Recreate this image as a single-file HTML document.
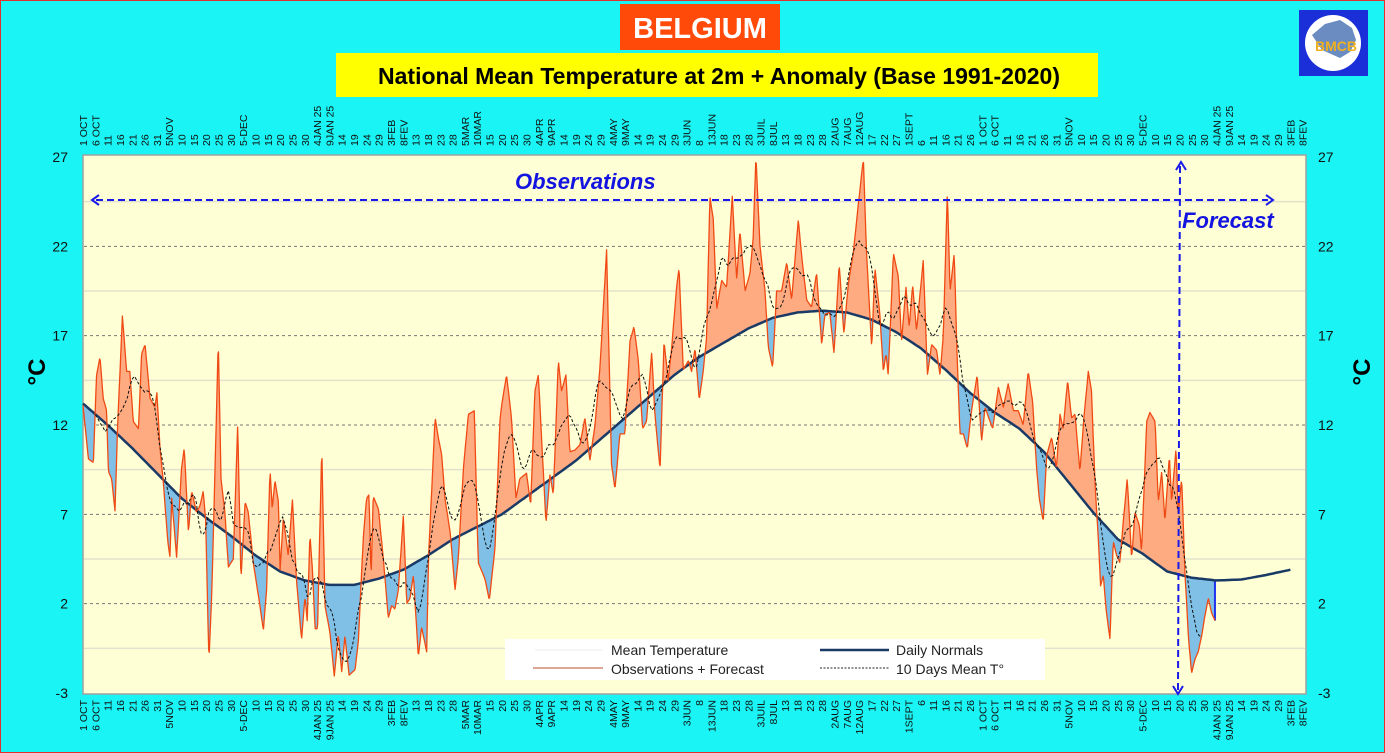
<!DOCTYPE html>
<html><head><meta charset="utf-8"><title>Belgium temperature</title>
<style>
html,body{margin:0;padding:0;}
body{width:1385px;height:753px;overflow:hidden;background:#1af4f4;font-family:"Liberation Sans",sans-serif;}
#wrap{position:relative;width:1383px;height:751px;border:1px solid #e03030;background:#1af4f4;}
</style></head>
<body>
<div id="wrap">
<svg id="svg" width="1383" height="751" viewBox="1 1 1383 751" xmlns="http://www.w3.org/2000/svg" style="position:absolute;left:0;top:0">
  <rect x="620" y="4" width="160" height="46" fill="#ff4a0a"/>
  <text x="700" y="38" text-anchor="middle" font-size="29" font-weight="bold" fill="#fff">BELGIUM</text>
  <rect x="336" y="53" width="762" height="44" fill="#ffff00"/>
  <text x="719" y="84" text-anchor="middle" font-size="23" font-weight="bold" fill="#000">National Mean Temperature at 2m + Anomaly (Base 1991-2020)</text>
  <g>
    <rect x="1299" y="10" width="69" height="66" fill="#1a2fd8"/>
    <circle cx="1333" cy="43" r="28" fill="#fff"/>
    <path d="M1312 35 L1325 24 L1340 20 L1352 28 L1356 40 L1350 52 L1340 58 L1322 50 Z" fill="#6a8cc0"/>
    <text x="1336" y="51" text-anchor="middle" font-size="14" font-weight="bold" fill="#f0b020">BMCB</text>
  </g>
  <rect x="83" y="155" width="1223" height="539" fill="#ffffd6" stroke="#a0a0a0" stroke-width="1.5"/>
  <g id="grid"></g>
  <g id="fills"></g>
  <g id="lines"></g>
  <g id="axes"></g>
  <g>
    <line x1="96" y1="200" x2="1268" y2="200" stroke="#1a1ae8" stroke-width="2" stroke-dasharray="7,4"/>
    <polyline points="99,195 92,200 99,205" fill="none" stroke="#1a1ae8" stroke-width="2"/>
    <polyline points="1266,195 1273,200 1266,205" fill="none" stroke="#1a1ae8" stroke-width="2"/>
    <text x="515" y="189" font-size="22" font-weight="bold" font-style="italic" fill="#1414e0">Observations</text>
  </g>
  <g>
    <line x1="1180" y1="166" x2="1178" y2="690" stroke="#1a1ae8" stroke-width="2" stroke-dasharray="7,4"/>
    <polyline points="1176,170 1181,162 1186,170" fill="none" stroke="#1a1ae8" stroke-width="2"/>
    <polyline points="1173,686 1178,694 1183,686" fill="none" stroke="#1a1ae8" stroke-width="2"/>
    <text x="1182" y="228" font-size="22" font-weight="bold" font-style="italic" fill="#1414e0">Forecast</text>
  </g>
  <g>
    <rect x="505" y="639" width="540" height="41" fill="#ffffff"/>
    <line x1="535" y1="650" x2="603" y2="650" stroke="#f4f4f4" stroke-width="1.5"/>
    <text x="611" y="655" font-size="14" fill="#222">Mean Temperature</text>
    <line x1="533" y1="668" x2="603" y2="668" stroke="#d08a70" stroke-width="1.5"/>
    <text x="611" y="674" font-size="14" fill="#222">Observations + Forecast</text>
    <line x1="820" y1="650" x2="889" y2="650" stroke="#1a3a66" stroke-width="2.5"/>
    <text x="896" y="655" font-size="14" fill="#222">Daily Normals</text>
    <line x1="820" y1="668" x2="889" y2="668" stroke="#222" stroke-width="1" stroke-dasharray="2,1.5"/>
    <text x="896" y="674" font-size="14" fill="#222">10 Days Mean T°</text>
  </g>
  <text transform="translate(45,372) rotate(-90)" text-anchor="middle" font-size="24" font-weight="bold" fill="#000">°C</text>
  <text transform="translate(1370,372) rotate(-90)" text-anchor="middle" font-size="24" font-weight="bold" fill="#000">°C</text>
</svg>
</div>
<script>
const obsDays=[0,2.2,4.2,5.5,6.9,8.2,9.6,10.3,11.6,13,14,16,17.7,19,20.4,22.5,23.8,25.2,27.2,29.2,30,31.2,32.6,34.4,35.3,36,38,40,41.1,42.8,44.1,46.1,47.5,48.8,49.8,51.1,52.2,53.6,54.9,56,57.6,59,61,62.8,64.1,65.8,67.1,69.1,71.8,73.2,74.5,75.9,76.8,77.9,79.3,80,81.3,83.3,85,86.7,88.7,90.1,91,92.1,93.1,94.2,95.2,96.9,98.2,100.2,102,103.6,105,106.3,108,110.4,111.7,113.8,115.1,116.1,116.9,117.8,119.9,121.9,123.9,125.3,126.6,128,130,131.4,132.7,134.1,136.1,137.4,139.5,140.2,142.9,144.2,145.6,146.9,149,151,152.3,154.4,156.4,158.8,160.4,163.1,164.9,167.2,169.2,169.9,171.9,173.9,175.7,177.3,180,181.7,183.4,184.8,186.1,187.9,189.5,190.9,192.9,194.2,196,197.6,199.7,201.7,203.7,205.7,207.8,209.8,212.5,214.5,215.9,217.9,219.9,222,223.6,225.4,227.1,228.7,230.8,232.1,234.2,235.8,237.5,238.9,240.9,241.9,243.6,245.7,247,248.4,250.1,251.7,253.1,254.4,255.8,257.2,259.2,261.2,263.5,265.3,266.6,268.7,270.7,272,273.1,274.7,276.8,278.1,279.9,281.5,283.5,285.6,287.6,290.3,291.7,293.7,295.7,297.7,299.8,301.1,303.1,304.8,306.9,308.8,310.6,312.6,314.7,316.7,318,320.1,321.4,323.4,324.8,325.9,326.8,328.9,330.9,332.2,334,335.3,336.7,338.3,341,342.7,344.4,346.4,347.8,349.1,350.8,351.9,353.6,354.6,355.9,357.3,358.9,360.6,362.9,364.7,366.1,368.1,369.2,371.5,373.5,375.5,377.6,379.6,381.6,383.6,385.4,387,388.1,389.7,391.1,393.1,395.1,396.5,397.8,399.6,401.2,402.6,404.6,406.2,408,409.3,410.7,412.1,413,414.1,415.2,416.8,418.1,419.5,420.8,422.2,423.8,425.6,426.9,428.7,429.6,431.7,433,435.1,436.4,437.8,439.1,440.9,441.8,443.6,444.5,445.9,447.2,448.6,449.9,451.3,452.6,454,455.3,456.7,458,459.4];
const obsTemps=[13.1,10.1,9.9,14.8,15.8,13.5,12.8,9.4,9.0,7.2,11.8,18.1,15.0,15.0,12.2,11.8,16.0,16.5,13.5,13.0,13.8,10.8,8.8,5.5,4.6,7.9,4.6,9.6,10.7,6.0,8.3,7.1,7.5,8.3,6.6,-1.2,2.3,9.6,16.8,9.0,7.1,4.05,4.5,12.1,3.3,7.7,7.1,4.3,1.9,0.5,2.8,9.5,7.3,8.9,7.7,3.9,6.8,4.7,7.8,3.2,0.0,2.4,1.05,5.9,3.9,0.6,0.6,10.8,1.9,0.4,-2.05,0.3,-1.8,0.2,-2.0,-1.7,-0.2,5.8,7.9,8.1,3.4,8.0,7.3,4.5,1.2,1.9,1.7,2.8,6.9,2.0,2.3,3.6,-1.0,0.7,-0.7,4.5,12.4,11.3,10.3,7.9,6.0,2.8,4.5,9.6,12.6,12.8,4.3,3.4,2.2,5.1,12.2,13.1,14.8,12.4,7.9,9.0,9.3,7.5,13.9,14.8,11.3,6.5,9.2,8.1,15.6,13.9,14.8,10.5,10.6,10.9,12.4,10.0,12.0,15.2,21.8,9.8,8.4,11.5,11.5,16.7,17.5,15.6,11.8,12.2,16.1,12.6,9.5,16.7,14.5,16.3,19.7,20.8,15.1,15.6,15.0,16.3,13.4,15.0,16.9,24.8,23.5,18.5,20.1,19.7,24.8,20.1,22.9,19.5,20.5,22.5,27.1,22.1,19.5,16.4,15.2,19.5,19.5,21.1,19.0,23.5,21.4,19.0,18.6,20.5,16.5,18.2,18.3,16.0,21.0,17.1,19.9,21.6,24.4,26.9,21.6,16.3,20.8,18.2,15.0,16.0,14.8,21.6,20.3,16.7,19.7,17.5,19.8,17.3,21.2,14.8,16.5,16.2,14.8,16.9,25.0,19.5,21.6,16.5,11.5,11.5,10.7,12.8,14.8,11.1,13.0,12.2,11.8,14.1,13.0,14.3,12.8,12.8,12.0,15.0,13.3,9.6,7.9,6.6,10.3,11.3,9.6,12.6,11.8,14.5,12.4,12.6,9.4,12.4,15.0,13.9,8.8,5.5,3.0,3.6,1.7,0.0,5.5,4.7,4.3,6.6,9.0,4.5,7.1,6.4,4.9,12.2,12.7,12.2,7.7,9.4,6.6,10.3,7.7,10.7,7.1,9.0,3.8,0.2,-1.9,-1.1,-0.7,0.2,1.3,2.3,1.5,1.05];
const normDays=[0,10,20,30,40,50,60,70,80,90,100,110,120,130,140,150,160,170,180,190,200,210,220,230,240,250,260,270,280,290,300,310,320,330,340,350,360,370,380,390,400,410,420,430,440,450,460,470,480,490];
const normVals=[13.2,12.0,10.7,9.3,7.9,6.8,5.8,4.7,3.8,3.3,3.05,3.05,3.4,3.9,4.7,5.6,6.3,7.0,8.0,9.0,10.0,11.2,12.4,13.6,14.8,15.8,16.6,17.4,18.0,18.3,18.4,18.3,17.9,17.2,16.3,15.1,13.8,12.7,11.8,10.5,8.8,7.1,5.6,4.8,3.8,3.45,3.3,3.35,3.6,3.9];
const yTicks=[27,22,17,12,7,2,-3];
const xLabels=["1 OCT","6 OCT","11","16","21","26","31","5NOV","10","15","20","25","30","5-DEC","10","15","20","25","30","4JAN 25","9JAN 25","14","19","24","29","3FEB","8FEV","13","18","23","28","5MAR","10MAR","15","20","25","30","4APR","9APR","14","19","24","29","4MAY","9MAY","14","19","24","29","3JUN","8","13JUN","18","23","28","3JUIL","8JUL","13","18","23","28","2AUG","7AUG","12AUG","17","22","27","1SEPT","6","11","16","21","26","1 OCT","6 OCT","11","16","21","26","31","5NOV","10","15","20","25","30","5-DEC","10","15","20","25","30","4JAN 25","9JAN 25","14","19","24","29","3FEB","8FEV"];
const forecastStartDay=444.5;

const NS="http://www.w3.org/2000/svg";
const X0=83,PXD=2.464,YT=157,YB=693,TMAX=27,TMIN=-3;
const xs=d=>X0+d*PXD;
const ys=t=>YB-(t-TMIN)*(YB-YT)/(TMAX-TMIN);
function mk(tag,attrs,parent){const e=document.createElementNS(NS,tag);for(const k in attrs)e.setAttribute(k,attrs[k]);parent.appendChild(e);return e;}
function interp(D,V,d){if(d<=D[0])return V[0];for(let i=1;i<D.length;i++){if(d<=D[i]){const f=(d-D[i-1])/(D[i]-D[i-1]);return V[i-1]+f*(V[i]-V[i-1]);}}return V[V.length-1];}

const grid=document.getElementById('grid'),fills=document.getElementById('fills'),lines=document.getElementById('lines'),axes=document.getElementById('axes');
// gridlines
for(let i=0;i<yTicks.length;i++){
  const t=yTicks[i];
  if(t!==TMAX&&t!==TMIN){
    const g=mk('line',{x1:84,x2:1305,y1:ys(t),y2:ys(t),stroke:'#777','stroke-width':1,'stroke-dasharray':'3,3'},grid);
    
    
  }
  if(i<yTicks.length-1){
    const m=(t+yTicks[i+1])/2;
    const g2=mk('line',{x1:84,x2:1305,y1:ys(m),y2:ys(m),stroke:'#e2e2cc','stroke-width':1.5},grid);
    
    
  }
  const l=mk('text',{x:68,y:ys(t)+5,'text-anchor':'end','font-size':14,fill:'#111'},axes);
  l.textContent=String(t);
  
  
  const r=mk('text',{x:1318,y:ys(t)+5,'text-anchor':'start','font-size':14,fill:'#111'},axes);
  r.textContent=String(t);
  
  
}
// x labels
xLabels.forEach((s,i)=>{
  const x=xs(i*5)+4;
  const a=mk('text',{transform:`translate(${x},146) rotate(-90)`,'text-anchor':'start','font-size':10.5,fill:'#111'},axes);
  a.textContent=s;
  
  
  const b=mk('text',{transform:`translate(${x},700) rotate(-90)`,'text-anchor':'end','font-size':10.5,fill:'#111'},axes);
  b.textContent=s;
  
  
});
// sampled series
const dStart=obsDays[0],dEnd=obsDays[obsDays.length-1];
const samp=[];for(let d=dStart;d<=dEnd+1e-6;d+=0.25)samp.push(d);
if(samp[samp.length-1]<dEnd)samp.push(dEnd);
const obsPts=samp.map(d=>[xs(d),ys(interp(obsDays,obsTemps,d))]);
const normPtsObs=samp.map(d=>[xs(d),ys(interp(normDays,normVals,d))]);
const pstr=a=>a.map(p=>p[0].toFixed(1)+','+p[1].toFixed(1)).join(' ');
// clip paths
const defs=mk('defs',{},document.getElementById('svg'));
const cAbove=mk('clipPath',{id:'above'},defs);
mk('polygon',{points:`${xs(dStart)},0 `+pstr(normPtsObs)+` ${xs(dEnd)},0`},cAbove);
const cBelow=mk('clipPath',{id:'below'},defs);
mk('polygon',{points:`${xs(dStart)},760 `+pstr(normPtsObs)+` ${xs(dEnd)},760`},cBelow);
const areaPts=pstr(obsPts)+' '+pstr(normPtsObs.slice().reverse());
const fa=mk('polygon',{points:areaPts,fill:'#ffab82','clip-path':'url(#above)'},fills);


const fb=mk('polygon',{points:areaPts,fill:'#80c0e6','clip-path':'url(#below)'},fills);


// last-day bar
const lastBar=mk('line',{x1:xs(dEnd),x2:xs(dEnd),y1:ys(obsTemps[obsTemps.length-1]),y2:ys(interp(normDays,normVals,dEnd)),stroke:'#2233ee','stroke-width':2},fills);


// normals line
const nPts=[];for(let d=normDays[0];d<=normDays[normDays.length-1];d+=1)nPts.push([xs(d),ys(interp(normDays,normVals,d))]);
const nl=mk('polyline',{points:pstr(nPts),fill:'none',stroke:'#1a3a66','stroke-width':2.5},lines);


// observations line
const ol=mk('polyline',{points:pstr(obsPts),fill:'none',stroke:'#f04a14','stroke-width':1.3,'stroke-linejoin':'round'},lines);


// 10-day running mean
const mPts=[];
for(let d=Math.ceil(dStart+5);d<=Math.floor(dEnd-5);d+=1){let s=0,n=0;for(let k=-5;k<5;k++){s+=interp(obsDays,obsTemps,d+k);n++;}mPts.push([xs(d),ys(s/n)]);}
const ml=mk('polyline',{points:pstr(mPts),fill:'none',stroke:'#111','stroke-width':1,'stroke-dasharray':'3,2'},lines);


</script>
</body></html>
